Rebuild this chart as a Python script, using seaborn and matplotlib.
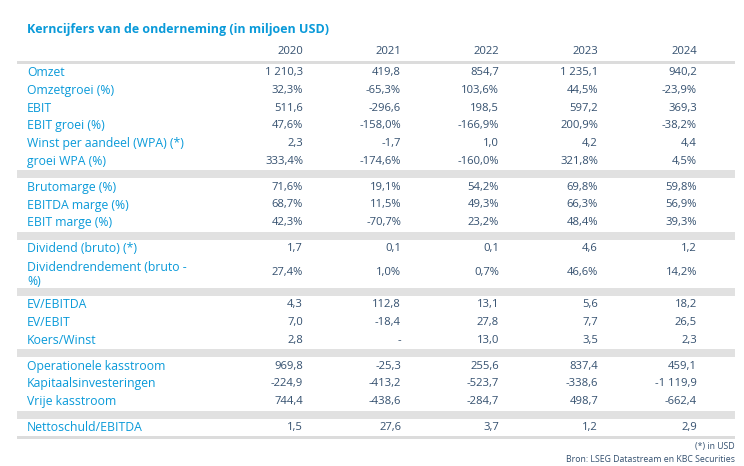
import matplotlib
matplotlib.use("Agg")
import matplotlib.pyplot as plt
import seaborn as sns

title = "Kerncijfers van de onderneming (in miljoen USD)"
years = ["2020", "2021", "2022", "2023", "2024"]

omzet = [1210.3, 419.8, 854.7, 1235.1, 940.2]
omzetgroei = [32.3, -65.3, 103.6, 44.5, -23.9]
ebit = [511.6, -296.6, 198.5, 597.2, 369.3]
ebit_groei = [47.6, -158.0, -166.9, 200.9, -38.2]
wpa = [2.3, -1.7, 1.0, 4.2, 4.4]
groei_wpa = [333.4, -174.6, -160.0, 321.8, 4.5]
brutomarge = [71.6, 19.1, 54.2, 69.8, 59.8]
ebitda_marge = [68.7, 11.5, 49.3, 66.3, 56.9]
ebit_marge = [42.3, -70.7, 23.2, 48.4, 39.3]
dividend = [1.7, 0.1, 0.1, 4.6, 1.2]
dividendrendement = [27.4, 1.0, 0.7, 46.6, 14.2]
ev_ebitda = [4.3, 112.8, 13.1, 5.6, 18.2]
ev_ebit = [7.0, -18.4, 27.8, 7.7, 26.5]
koers_winst = [2.8, None, 13.0, 3.5, 2.3]
op_kasstroom = [969.8, -25.3, 255.6, 837.4, 459.1]
kapitaalsinv = [-224.9, -413.2, -523.7, -338.6, -1119.9]
vrije_kasstroom = [744.4, -438.6, -284.7, 498.7, -662.4]
nettoschuld_ebitda = [1.5, 27.6, 3.7, 1.2, 2.9]

# groups of rows: (label, is_percent, values)
groups = [
    [("Omzet", False, omzet),
     ("Omzetgroei (%)", True, omzetgroei),
     ("EBIT", False, ebit),
     ("EBIT groei (%)", True, ebit_groei),
     ("Winst per aandeel (WPA) (*)", False, wpa),
     ("groei WPA (%)", True, groei_wpa)],
    [("Brutomarge (%)", True, brutomarge),
     ("EBITDA marge (%)", True, ebitda_marge),
     ("EBIT marge (%)", True, ebit_marge)],
    [("Dividend (bruto) (*)", False, dividend),
     ("Dividendrendement (bruto -\n%)", True, dividendrendement)],
    [("EV/EBITDA", False, ev_ebitda),
     ("EV/EBIT", False, ev_ebit),
     ("Koers/Winst", False, koers_winst)],
    [("Operationele kasstroom", False, op_kasstroom),
     ("Kapitaalsinvesteringen", False, kapitaalsinv),
     ("Vrije kasstroom", False, vrije_kasstroom)],
    [("Nettoschuld/EBITDA", False, nettoschuld_ebitda)],
]
footnotes = ["(*) in USD", "Bron: LSEG Datastream en KBC Securities"]


def fmt(v, pct):
    if v is None:
        return "-"
    s = f"{abs(v):,.1f}".replace(",", " ").replace(".", ",")
    if v < 0:
        s = "-" + s
    return s + ("%" if pct else "")


blue = "#0a9ad9"
dark = "#34506f"
band = "#e1e1e1"

sns.set_theme(style="white")
plt.rcParams["font.family"] = ["Open Sans", "DejaVu Sans"]

W, H = 744, 466
fig = plt.figure(figsize=(W / 100, H / 100), dpi=100)
ax = fig.add_axes([0, 0, 1, 1])
ax.set_xlim(0, W)
ax.set_ylim(H, 0)
ax.axis("off")

x_left, x_right = 17, 735
x_label = 27
col_right = [303, 401, 499, 598, 697]
row_h = 17.8
band_h = 8

ax.text(x_label, 30, title, color=blue, fontsize=9.0, fontweight="bold",
        va="center", ha="left")
for x, yr in zip(col_right, years):
    ax.text(x, 52, yr, color=dark, fontsize=8.1, va="center", ha="right")
ax.fill_between([x_left, x_right], 61, 63.5, color="#dcdcdc", lw=0)

y = 63.5
for gi, group in enumerate(groups):
    if gi > 0:
        ax.fill_between([x_left, x_right], y, y + band_h, color=band, lw=0)
        y += band_h
    for label, pct, vals in group:
        h = row_h * 1.7 if "\n" in label else row_h
        yc = y + h / 2
        ax.text(x_label, yc + (1.5 if "\n" in label else 0), label, color=blue,
                fontsize=8.8, va="center", ha="left", linespacing=1.1)
        for x, v in zip(col_right, vals):
            ax.text(x, yc, fmt(v, pct), color=dark, fontsize=8.1,
                    va="center", ha="right")
        y += h
ax.fill_between([x_left, x_right], y, y + 2.2, color="#dcdcdc", lw=0)

ax.text(x_right, 447, footnotes[0], color=dark, fontsize=6.3, va="center", ha="right")
ax.text(x_right, 460, footnotes[1], color=dark, fontsize=6.3, va="center", ha="right")

fig.savefig("out.png", dpi=100, facecolor="white")
